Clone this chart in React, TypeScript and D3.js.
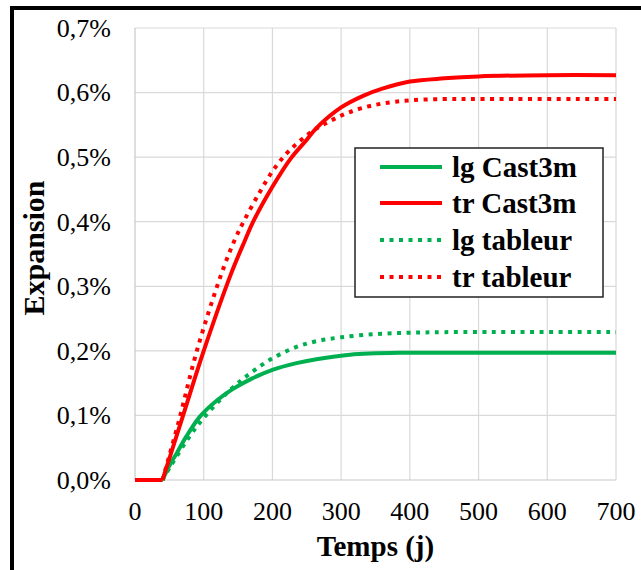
import React from "react";
import * as d3 from "d3";

const xTicks = [0, 100, 200, 300, 400, 500, 600, 700];
const yTicks = [0, 0.1, 0.2, 0.3, 0.4, 0.5, 0.6, 0.7];
const yTickLabels = ["0,0%", "0,1%", "0,2%", "0,3%", "0,4%", "0,5%", "0,6%", "0,7%"];

const seriesNames = ["lg Cast3m", "tr Cast3m", "lg tableur", "tr tableur"];

const lgCastT = [0, 40, 50, 61, 75, 95, 120, 141, 170, 201, 235, 264, 313, 386, 450, 700];
const lgCastV = [0, 0, 0.022, 0.042, 0.068, 0.099, 0.124, 0.140, 0.157, 0.171, 0.181, 0.187, 0.194, 0.197, 0.197, 0.197];

const trCastT = [0, 40, 70, 100, 140, 160, 172, 200, 226, 250, 264, 300, 332, 360, 400, 450, 500, 600, 700];
const trCastV = [0, 0, 0.1, 0.2, 0.32, 0.371, 0.40, 0.454, 0.497, 0.527, 0.545, 0.577, 0.595, 0.606, 0.617, 0.622, 0.625, 0.627, 0.627];

const lgTabT = [40, 51, 90, 138, 170, 201, 235, 264, 300, 350, 400, 450, 700];
const lgTabV = [0, 0.02, 0.083, 0.139, 0.167, 0.189, 0.206, 0.215, 0.221, 0.226, 0.228, 0.229, 0.229];

const trTabT = [40, 63, 90, 126, 146, 158, 180, 200, 220, 240, 262, 284, 306, 330, 360, 400, 450, 500, 700];
const trTabV = [0, 0.088, 0.2, 0.32, 0.374, 0.40, 0.443, 0.478, 0.505, 0.525, 0.543, 0.556, 0.567, 0.576, 0.583, 0.588, 0.590, 0.590, 0.590];

const GREEN = "#00B050";
const RED = "#FF0000";
const FONT = "Liberation Serif";

export default function App() {
  const x = d3.scaleLinear().domain([0, 700]).range([135, 616]);
  const y = d3.scaleLinear().domain([0, 0.7]).range([480, 28]);

  const line = d3
    .line<[number, number]>()
    .x((d) => x(d[0]))
    .y((d) => y(d[1]))
    .curve(d3.curveCatmullRom.alpha(0.5));

  const zip = (t: number[], v: number[]) => t.map((ti, i) => [ti, v[i]] as [number, number]);

  const pathFor = (data: [number, number][]) => {
    const k = data.findIndex((d) => d[1] > 0);
    const flat = data.slice(0, Math.max(k, 1));
    const rise = data.slice(Math.max(k - 1, 0));
    const flatPath = flat.length > 1 ? d3.line<[number, number]>().x((d) => x(d[0])).y((d) => y(d[1]))(flat) : "";
    return (flatPath || "") + (line(rise) || "");
  };

  const series = [
    { name: seriesNames[0], data: zip(lgCastT, lgCastV), color: GREEN, dash: null as string | null },
    { name: seriesNames[1], data: zip(trCastT, trCastV), color: RED, dash: null as string | null },
    { name: seriesNames[2], data: zip(lgTabT, lgTabV), color: GREEN, dash: "4 5.5" },
    { name: seriesNames[3], data: zip(trTabT, trTabV), color: RED, dash: "4 5.5" },
  ];
  const drawOrder = [2, 3, 0, 1];

  const legX = 355, legY = 148, legW = 248, legH = 149;
  const rowYs = [167, 203, 240, 277];

  return (
    <svg width={641} height={570} style={{ position: "absolute", left: 0, top: 0, background: "#fff" }}>
      <rect x={0} y={0} width={641} height={570} fill="#fff" />
      {yTicks.slice(1).map((t) => (
        <line key={"gy" + t} x1={x(0)} x2={x(700)} y1={y(t)} y2={y(t)} stroke="#D9D9D9" strokeWidth={1.2} />
      ))}
      {xTicks.slice(1).map((t) => (
        <line key={"gx" + t} x1={x(t)} x2={x(t)} y1={y(0.7)} y2={y(0)} stroke="#D9D9D9" strokeWidth={1.2} />
      ))}
      <line x1={x(0)} x2={x(0)} y1={y(0.7)} y2={y(0)} stroke="#C8C8C8" strokeWidth={1.2} />
      <line x1={x(0)} x2={x(700)} y1={y(0)} y2={y(0)} stroke="#C8C8C8" strokeWidth={1.2} />

      {drawOrder.map((i) => {
        const s = series[i];
        return (
          <path
            key={s.name}
            d={pathFor(s.data)}
            fill="none"
            stroke={s.color}
            strokeWidth={4}
            strokeDasharray={s.dash || undefined}
          />
        );
      })}

      {yTicks.map((t, i) => (
        <text key={"yl" + t} x={111} y={y(t)} dy="0.34em" textAnchor="end" fontSize={26} fill="#000"
          style={{ fontFamily: FONT }}>
          {yTickLabels[i]}
        </text>
      ))}
      {xTicks.map((t) => (
        <text key={"xl" + t} x={x(t)} y={520} textAnchor="middle" fontSize={26} fill="#000"
          style={{ fontFamily: FONT }}>
          {String(t)}
        </text>
      ))}

      <text x={(x(0) + x(700)) / 2} y={556} textAnchor="middle" fontSize={29} fontWeight="bold" fill="#000"
        style={{ fontFamily: FONT }}>
        Temps (j)
      </text>
      <text
        transform={`translate(44, ${(y(0) + y(0.7)) / 2 - 6}) rotate(-90)`}
        textAnchor="middle"
        fontSize={30}
        fontWeight="bold"
        fill="#000"
        style={{ fontFamily: FONT }}
      >
        Expansion
      </text>

      <rect x={legX} y={legY} width={legW} height={legH} fill="#fff" stroke="#222" strokeWidth={1.5} />
      {series.map((s, i) => (
        <g key={"lg" + i}>
          <line
            x1={380}
            x2={442}
            y1={rowYs[i]}
            y2={rowYs[i]}
            stroke={s.color}
            strokeWidth={4}
            strokeDasharray={s.dash || undefined}
          />
          <text x={452} y={rowYs[i]} dy="0.34em" fontSize={29} fontWeight="bold" fill="#000"
            style={{ fontFamily: FONT }}>
            {s.name}
          </text>
        </g>
      ))}

      <rect x={12} y={8} width={700} height={620} fill="none" stroke="#000" strokeWidth={4} />
    </svg>
  );
}
